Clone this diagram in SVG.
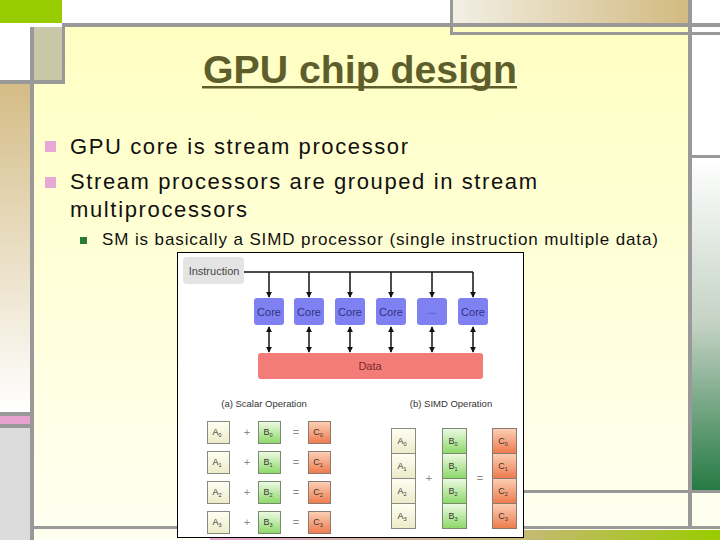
<svg xmlns="http://www.w3.org/2000/svg" width="720" height="540" viewBox="0 0 720 540">
<defs>
<linearGradient id="slideBg" x1="0" y1="0" x2="0" y2="1"><stop offset="0" stop-color="#ffffc2"/><stop offset="1" stop-color="#fffff0"/></linearGradient>
<linearGradient id="tanV" x1="0" y1="0" x2="0" y2="1"><stop offset="0" stop-color="#d4bc86"/><stop offset="1" stop-color="#ffffff"/></linearGradient>
<linearGradient id="tanH" x1="0" y1="0" x2="1" y2="0"><stop offset="0" stop-color="#f2efe4"/><stop offset="1" stop-color="#d2ba80"/></linearGradient>
<linearGradient id="greenV" x1="0" y1="0" x2="0" y2="1"><stop offset="0" stop-color="#ffffff"/><stop offset="0.5" stop-color="#c4d2c4"/><stop offset="1" stop-color="#267a44"/></linearGradient>
<linearGradient id="bottomBar" x1="0" y1="0" x2="1" y2="0"><stop offset="0" stop-color="#e6a6d2"/><stop offset="0.6" stop-color="#c8b878"/><stop offset="1" stop-color="#99cc00"/></linearGradient>
<linearGradient id="gA" x1="0" y1="0" x2="0" y2="1"><stop offset="0" stop-color="#fffff4"/><stop offset="1" stop-color="#ecebc8"/></linearGradient>
<linearGradient id="gB" x1="0" y1="0" x2="0" y2="1"><stop offset="0" stop-color="#eefae4"/><stop offset="1" stop-color="#8cd868"/></linearGradient>
<linearGradient id="gC" x1="0" y1="0" x2="0" y2="1"><stop offset="0" stop-color="#fbd0b6"/><stop offset="1" stop-color="#ee7a4c"/></linearGradient>
<marker id="ah" viewBox="0 0 8 8" refX="7" refY="4" markerWidth="6" markerHeight="6" orient="auto-start-reverse" markerUnits="userSpaceOnUse"><path d="M0,0 L8,4 L0,8 z" fill="#111"/></marker>
<style>
.line{fill:#999999}
.t1{font-family:"Liberation Sans",Arial,sans-serif;font-size:22px;fill:#111}
.t2{font-family:"Liberation Sans",Arial,sans-serif;font-size:17px;fill:#111}
.lbl{font-family:"Liberation Sans",Arial,sans-serif;font-size:11px;text-anchor:middle}
.cap{font-family:"Liberation Sans",Arial,sans-serif;font-size:9.5px;fill:#333;text-anchor:middle}
.core{fill:#7f80f2}
.coreT{fill:#33337c}
.bA{fill:url(#gA);stroke:#8a8a80;stroke-width:1}
.bB{fill:url(#gB);stroke:#7a8a70;stroke-width:1}
.bC{fill:url(#gC);stroke:#8a7a70;stroke-width:1}
.bt{font-family:"Liberation Sans",Arial,sans-serif;font-size:9px;fill:#333;text-anchor:middle}
.op{font-family:"Liberation Sans",Arial,sans-serif;font-size:11px;fill:#888;text-anchor:middle}
.arr{stroke:#111;stroke-width:1.5;fill:none}
</style>
</defs>
<g id="background">
<rect x="0" y="0" width="720" height="540" fill="#ffffff"/>
<rect x="34" y="27" width="654" height="499" fill="url(#slideBg)"/>
<rect x="0" y="0" width="62" height="23" fill="#99cc00"/>
<rect x="34" y="27" width="28" height="53" fill="#c8c8a8"/>
<rect x="0" y="84" width="30" height="328" fill="url(#tanV)"/>
<rect x="0" y="416" width="30" height="8" fill="#e8a2d2"/>
<rect x="0" y="428" width="30" height="112" fill="#dcdcdc"/>
<rect x="452" y="0" width="236" height="23" fill="url(#tanH)"/>
<rect x="692" y="158" width="28" height="332" fill="url(#greenV)"/>
<rect x="692" y="493" width="28" height="33" fill="#fffff0"/>
<rect x="34" y="529" width="686" height="11" fill="#fffff0"/>
<rect x="210" y="530" width="510" height="10" fill="url(#bottomBar)"/>
<rect class="line" x="62" y="23" width="658" height="4"/>
<rect class="line" x="30" y="27" width="4" height="513"/>
<rect class="line" x="62" y="23" width="3" height="61"/>
<rect class="line" x="0" y="80" width="65" height="4"/>
<rect class="line" x="0" y="412" width="30" height="4"/>
<rect class="line" x="0" y="424" width="30" height="4"/>
<rect class="line" x="450" y="0" width="3" height="35"/>
<rect class="line" x="450" y="32" width="270" height="3"/>
<rect class="line" x="688" y="0" width="4" height="529"/>
<rect class="line" x="692" y="155" width="28" height="3"/>
<rect class="line" x="500" y="490" width="220" height="3"/>
<rect class="line" x="34" y="526" width="686" height="3"/>
</g>
<g id="title">
<text x="360" y="83" text-anchor="middle" font-family="Liberation Sans, Arial, sans-serif" font-size="38" font-weight="bold" fill="#5e5e2c" textLength="314" lengthAdjust="spacingAndGlyphs">GPU chip design</text>
<rect x="202" y="86" width="315" height="2.5" fill="#5e5e2c"/>
</g>
<g id="bullets">
<rect x="45" y="141" width="11" height="11" fill="#e8a8d6"/>
<text class="t1" x="70" y="154" textLength="338" lengthAdjust="spacing">GPU core is stream processor</text>
<rect x="45" y="177" width="11" height="11" fill="#e8a8d6"/>
<text class="t1" x="70" y="189" textLength="467" lengthAdjust="spacing">Stream processors are grouped in stream</text>
<text class="t1" x="70" y="217" textLength="177" lengthAdjust="spacing">multiprocessors</text>
<rect x="80" y="237" width="7" height="7" fill="#2a7a3a"/>
<text class="t2" x="102" y="245" textLength="556" lengthAdjust="spacing">SM is basically a SIMD processor (single instruction multiple data)</text>
</g>
<g id="figure">
<rect x="177.5" y="252.5" width="346" height="285" fill="#ffffff" stroke="#000" stroke-width="1"/>
<g id="connectors">
<path class="arr" d="M244,272 H473" stroke-width="2"/>
<path class="arr" d="M269,272 V297" marker-end="url(#ah)"/>
<path class="arr" d="M309,272 V297" marker-end="url(#ah)"/>
<path class="arr" d="M350,272 V297" marker-end="url(#ah)"/>
<path class="arr" d="M391,272 V297" marker-end="url(#ah)"/>
<path class="arr" d="M432,272 V297" marker-end="url(#ah)"/>
<path class="arr" d="M473,272 V297" marker-end="url(#ah)"/>
<path class="arr" d="M269,327 V352" marker-start="url(#ah)" marker-end="url(#ah)"/>
<path class="arr" d="M309,327 V352" marker-start="url(#ah)" marker-end="url(#ah)"/>
<path class="arr" d="M350,327 V352" marker-start="url(#ah)" marker-end="url(#ah)"/>
<path class="arr" d="M391,327 V352" marker-start="url(#ah)" marker-end="url(#ah)"/>
<path class="arr" d="M432,327 V352" marker-start="url(#ah)" marker-end="url(#ah)"/>
<path class="arr" d="M473,327 V352" marker-start="url(#ah)" marker-end="url(#ah)"/>
</g>
<g id="instruction"><rect x="183" y="257" width="61" height="27" rx="4" fill="#e4e4e4"/><text class="lbl" x="214" y="275" fill="#444">Instruction</text></g>
<g id="core1"><rect class="core" x="254" y="298" width="30" height="27" rx="3"/><text class="lbl coreT" x="269" y="316">Core</text></g>
<g id="core2"><rect class="core" x="294" y="298" width="30" height="27" rx="3"/><text class="lbl coreT" x="309" y="316">Core</text></g>
<g id="core3"><rect class="core" x="335" y="298" width="30" height="27" rx="3"/><text class="lbl coreT" x="350" y="316">Core</text></g>
<g id="core4"><rect class="core" x="376" y="298" width="30" height="27" rx="3"/><text class="lbl coreT" x="391" y="316">Core</text></g>
<g id="coreEllipsis"><rect class="core" x="417" y="298" width="30" height="27" rx="3"/><text class="lbl" x="432" y="314" fill="#4a4aa0">...</text></g>
<g id="core6"><rect class="core" x="458" y="298" width="30" height="27" rx="3"/><text class="lbl coreT" x="473" y="316">Core</text></g>
<g id="data"><rect x="258" y="353" width="225" height="26" rx="3" fill="#f47c78"/><text class="lbl" x="370" y="370" fill="#7a2a2a">Data</text></g>
<g id="scalar">
<text class="cap" x="264" y="407">(a) Scalar Operation</text>
<rect class="bA" x="207.5" y="421.5" width="22" height="22"/><text class="bt" x="217" y="435">A<tspan font-size="5.5" dy="2">0</tspan></text>
<text class="op" x="247" y="436">+</text>
<rect class="bB" x="258.5" y="421.5" width="22" height="22"/><text class="bt" x="268" y="435">B<tspan font-size="5.5" dy="2">0</tspan></text>
<text class="op" x="296" y="436">=</text>
<rect class="bC" x="308.5" y="421.5" width="22" height="22"/><text class="bt" x="318" y="435">C<tspan font-size="5.5" dy="2">0</tspan></text>
<rect class="bA" x="207.5" y="451.5" width="22" height="22"/><text class="bt" x="217" y="465">A<tspan font-size="5.5" dy="2">1</tspan></text>
<text class="op" x="247" y="466">+</text>
<rect class="bB" x="258.5" y="451.5" width="22" height="22"/><text class="bt" x="268" y="465">B<tspan font-size="5.5" dy="2">1</tspan></text>
<text class="op" x="296" y="466">=</text>
<rect class="bC" x="308.5" y="451.5" width="22" height="22"/><text class="bt" x="318" y="465">C<tspan font-size="5.5" dy="2">1</tspan></text>
<rect class="bA" x="207.5" y="481.5" width="22" height="22"/><text class="bt" x="217" y="495">A<tspan font-size="5.5" dy="2">2</tspan></text>
<text class="op" x="247" y="496">+</text>
<rect class="bB" x="258.5" y="481.5" width="22" height="22"/><text class="bt" x="268" y="495">B<tspan font-size="5.5" dy="2">2</tspan></text>
<text class="op" x="296" y="496">=</text>
<rect class="bC" x="308.5" y="481.5" width="22" height="22"/><text class="bt" x="318" y="495">C<tspan font-size="5.5" dy="2">2</tspan></text>
<rect class="bA" x="207.5" y="511.5" width="22" height="22"/><text class="bt" x="217" y="525">A<tspan font-size="5.5" dy="2">3</tspan></text>
<text class="op" x="247" y="526">+</text>
<rect class="bB" x="258.5" y="511.5" width="22" height="22"/><text class="bt" x="268" y="525">B<tspan font-size="5.5" dy="2">3</tspan></text>
<text class="op" x="296" y="526">=</text>
<rect class="bC" x="308.5" y="511.5" width="22" height="22"/><text class="bt" x="318" y="525">C<tspan font-size="5.5" dy="2">3</tspan></text>
</g>
<g id="simd">
<text class="cap" x="451" y="407">(b) SIMD Operation</text>
<rect class="bA" x="391.5" y="428.5" width="24" height="25"/><text class="bt" x="402" y="444">A<tspan font-size="5.5" dy="2">0</tspan></text>
<rect class="bA" x="391.5" y="453.5" width="24" height="25"/><text class="bt" x="402" y="469">A<tspan font-size="5.5" dy="2">1</tspan></text>
<rect class="bA" x="391.5" y="478.5" width="24" height="25"/><text class="bt" x="402" y="494">A<tspan font-size="5.5" dy="2">2</tspan></text>
<rect class="bA" x="391.5" y="503.5" width="24" height="25"/><text class="bt" x="402" y="519">A<tspan font-size="5.5" dy="2">3</tspan></text>
<text class="op" x="429" y="482">+</text>
<rect class="bB" x="442.5" y="428.5" width="24" height="25"/><text class="bt" x="453" y="444">B<tspan font-size="5.5" dy="2">0</tspan></text>
<rect class="bB" x="442.5" y="453.5" width="24" height="25"/><text class="bt" x="453" y="469">B<tspan font-size="5.5" dy="2">1</tspan></text>
<rect class="bB" x="442.5" y="478.5" width="24" height="25"/><text class="bt" x="453" y="494">B<tspan font-size="5.5" dy="2">2</tspan></text>
<rect class="bB" x="442.5" y="503.5" width="24" height="25"/><text class="bt" x="453" y="519">B<tspan font-size="5.5" dy="2">3</tspan></text>
<text class="op" x="480" y="482">=</text>
<rect class="bC" x="492.5" y="428.5" width="24" height="25"/><text class="bt" x="503" y="444">C<tspan font-size="5.5" dy="2">0</tspan></text>
<rect class="bC" x="492.5" y="453.5" width="24" height="25"/><text class="bt" x="503" y="469">C<tspan font-size="5.5" dy="2">1</tspan></text>
<rect class="bC" x="492.5" y="478.5" width="24" height="25"/><text class="bt" x="503" y="494">C<tspan font-size="5.5" dy="2">2</tspan></text>
<rect class="bC" x="492.5" y="503.5" width="24" height="25"/><text class="bt" x="503" y="519">C<tspan font-size="5.5" dy="2">3</tspan></text>
</g>
</g>
</svg>
